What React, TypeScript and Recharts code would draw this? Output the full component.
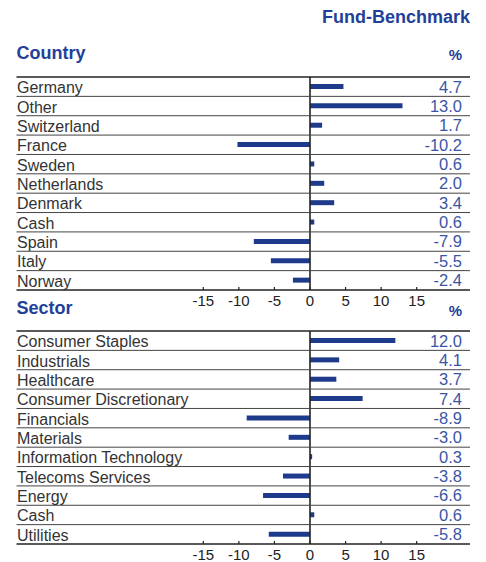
import React from "react";
import { BarChart, Bar, XAxis, YAxis, ReferenceLine, LabelList } from "recharts";

const countryNames = ["Germany", "Other", "Switzerland", "France", "Sweden", "Netherlands", "Denmark", "Cash", "Spain", "Italy", "Norway"];
const countryValues = [4.7, 13.0, 1.7, -10.2, 0.6, 2.0, 3.4, 0.6, -7.9, -5.5, -2.4];

const sectorNames = ["Consumer Staples", "Industrials", "Healthcare", "Consumer Discretionary", "Financials", "Materials", "Information Technology", "Telecoms Services", "Energy", "Cash", "Utilities"];
const sectorValues = [12.0, 4.1, 3.7, 7.4, -8.9, -3.0, 0.3, -3.8, -6.6, 0.6, -5.8];

const axisTicks = [-15, -10, -5, 0, 5, 10, 15];

const BAR_COLOR = "#1e3a8a";
const VALUE_COLOR = "#3a55a5";
const HEAD_COLOR = "#22409a";
const FONT = "'Liberation Sans', Arial, sans-serif";

const W = 486;
const TOP = 77;
const PLOT_H = 213;
const LEFT_EDGE = 16.5;
const RIGHT_EDGE = 470;
const PLOT_LEFT = 203.3;
const PLOT_RIGHT = 416.7;

function makeRows(names: string[], values: number[]) {
  return names.map((n, i) => ({ name: n, value: values[i] }));
}

function RowTick(props: any) {
  const { y, index, count } = props;
  const rowH = PLOT_H / count;
  return (
    <g>
      {index === 0 && (
        <line x1={LEFT_EDGE} x2={RIGHT_EDGE} y1={y - rowH / 2} y2={y - rowH / 2} stroke="#222" strokeWidth={1.4} />
      )}
      <line
        x1={LEFT_EDGE}
        x2={RIGHT_EDGE}
        y1={y + rowH / 2}
        y2={y + rowH / 2}
        stroke={index === count - 1 ? "#222" : "#444"}
        strokeWidth={index === count - 1 ? 1.3 : 1}
      />
      <text x={LEFT_EDGE + 0.5} y={y + 6.5} fontSize={16} fontFamily={FONT} fill="#333">
        {props.payload.value}
      </text>
    </g>
  );
}

function XTick(props: any) {
  const { x, y, payload } = props;
  return (
    <g>
      <line x1={x} x2={x} y1={y - 3} y2={y} stroke="#222" strokeWidth={1.2} />
      <text x={x} y={y + 15.5} fontSize={15} fontFamily={FONT} fill="#222" textAnchor="middle">
        {payload.value}
      </text>
    </g>
  );
}

function ValueLabel(props: any) {
  const { y, height, value } = props;
  return (
    <text x={462} y={y + height / 2 + 6} fontSize={16.5} fontFamily={FONT} fill={VALUE_COLOR} textAnchor="end">
      {Number(value).toFixed(1)}
    </text>
  );
}

function Panel({ names, values, height, axisH }: { names: string[]; values: number[]; height: number; axisH: number }) {
  const data = makeRows(names, values);
  return (
    <BarChart
      width={W}
      height={height}
      data={data}
      layout="vertical"
      margin={{ top: TOP, right: W - PLOT_RIGHT, bottom: 0, left: LEFT_EDGE }}
      barCategoryGap={0}
    >
      <XAxis
        type="number"
        domain={[-15, 15]}
        ticks={axisTicks}
        axisLine={false}
        tickLine={false}
        tickSize={0}
        tickMargin={0}
        height={axisH}
        tick={<XTick />}
        interval={0}
      />
      <YAxis
        type="category"
        dataKey="name"
        width={PLOT_LEFT - LEFT_EDGE}
        axisLine={false}
        tickLine={false}
        interval={0}
        tick={(p: any) => <RowTick {...p} count={data.length} />}
      />
      <Bar dataKey="value" fill={BAR_COLOR} barSize={5} isAnimationActive={false}>
        <LabelList dataKey="value" content={<ValueLabel />} />
      </Bar>
      <ReferenceLine x={0} stroke="#222" strokeWidth={1.6} />
    </BarChart>
  );
}

const headStyle: React.CSSProperties = {
  position: "absolute",
  fontFamily: FONT,
  fontWeight: "bold",
  color: HEAD_COLOR,
  margin: 0,
  lineHeight: 1,
  whiteSpace: "nowrap",
};

export default function App() {
  return (
    <div style={{ position: "absolute", left: 0, top: 0, width: W, height: 562, overflow: "hidden", background: "#fff" }}>
      <div style={{ ...headStyle, fontSize: 18, right: W - RIGHT_EDGE, top: 8 }}>Fund-Benchmark</div>
      <div style={{ ...headStyle, fontSize: 18, left: LEFT_EDGE, top: 44 }}>Country</div>
      <div style={{ ...headStyle, fontSize: 15, right: W - 462, top: 47 }}>%</div>
      <div style={{ ...headStyle, fontSize: 18, left: LEFT_EDGE, top: 299 }}>Sector</div>
      <div style={{ ...headStyle, fontSize: 15, right: W - 462, top: 303 }}>%</div>
      <div style={{ position: "absolute", left: 0, top: 0 }}>
        <Panel names={countryNames} values={countryValues} height={TOP + PLOT_H + 30} axisH={30} />
      </div>
      <div style={{ position: "absolute", left: 0, top: 254 }}>
        <Panel names={sectorNames} values={sectorValues} height={TOP + PLOT_H + 18} axisH={18} />
      </div>
    </div>
  );
}
